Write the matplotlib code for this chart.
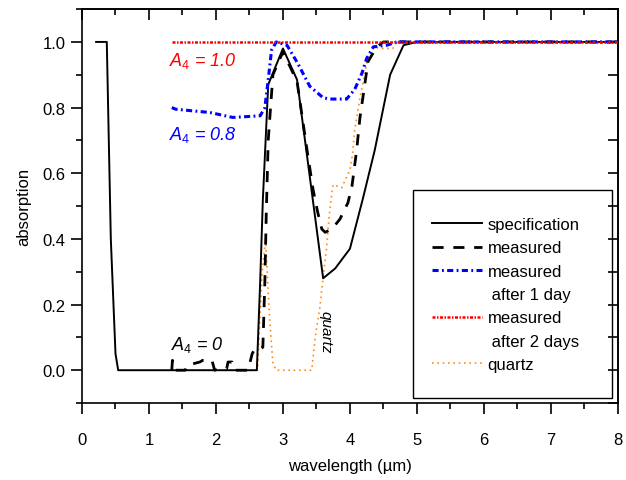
import numpy as np
import matplotlib
matplotlib.use('Agg')
import matplotlib.pyplot as plt
from matplotlib.patches import Rectangle
from matplotlib.lines import Line2D

plt.rcParams['font.family'] = ['Liberation Sans', 'DejaVu Sans']
plt.rcParams['mathtext.fontset'] = 'custom'
plt.rcParams['mathtext.it'] = 'Liberation Sans:italic'
plt.rcParams['mathtext.rm'] = 'Liberation Sans'

# specification
spec_x = [0.21, 0.37, 0.40, 0.43, 0.47, 0.50, 0.54, 2.61, 2.66, 2.70, 2.78, 3.00, 3.21,
          3.60, 3.78, 4.00, 4.19, 4.37, 4.60, 4.80, 5.00, 8.00]
spec_y = [1.00, 1.00, 0.70, 0.40, 0.20, 0.05, 0.00, 0.00, 0.27, 0.52, 0.87, 0.98, 0.885,
          0.28, 0.31, 0.37, 0.52, 0.67, 0.90, 0.99, 1.00, 1.00]

# measured
meas_x = [1.34, 1.35, 1.39, 1.54, 1.57, 1.76, 1.80, 1.94, 1.98, 2.06, 2.16, 2.18, 2.24,
          2.28, 2.40, 2.48, 2.54, 2.58, 2.66, 2.70, 2.73, 2.75, 2.78, 2.85, 3.00, 3.21,
          3.36, 3.45, 3.52, 3.58, 3.63, 3.73, 3.85, 3.97, 4.03, 4.10, 4.15, 4.20, 4.27,
          4.40, 4.50, 8.00]
meas_y = [0.00, 0.03, 0.00, 0.00, 0.015, 0.025, 0.03, 0.03, 0.00, 0.005, 0.005, 0.025, 0.025,
          0.00, 0.00, 0.00, 0.05, 0.065, 0.065, 0.07, 0.27, 0.47, 0.70, 0.90, 0.97, 0.88,
          0.67, 0.55, 0.48, 0.43, 0.42, 0.43, 0.46, 0.51, 0.56, 0.67, 0.77, 0.84, 0.94,
          0.985, 1.00, 1.00]

# measured after 1 day
day1_x = [1.34, 1.40, 1.91, 2.25, 2.66, 2.73, 2.78, 2.83, 2.90, 3.06, 3.22, 3.40, 3.60,
          3.70, 3.95, 4.07, 4.18, 4.25, 4.35, 4.55, 4.70, 8.00]
day1_y = [0.80, 0.795, 0.785, 0.77, 0.775, 0.80, 0.885, 0.975, 1.00, 0.99, 0.935, 0.865, 0.83,
          0.826, 0.826, 0.855, 0.905, 0.95, 0.985, 0.99, 1.00, 1.00]

# measured after 2 days
day2_x = [1.34, 8.00]
day2_y = [1.00, 1.00]

# quartz
quartz_x = [1.34, 1.38, 1.42, 2.62, 2.69, 2.74, 2.80, 2.85, 2.90, 3.43, 3.48, 3.55, 3.60,
            3.65, 3.69, 3.73, 3.75, 3.88, 3.92, 4.00, 4.04, 4.07, 4.15, 4.25, 4.35, 4.45,
            4.64, 4.70, 8.00]
quartz_y = [0.00, 0.005, 0.00, 0.00, 0.30, 0.40, 0.16, 0.02, 0.00, 0.00, 0.10, 0.19, 0.285,
            0.37, 0.47, 0.54, 0.565, 0.556, 0.575, 0.61, 0.66, 0.73, 0.83, 0.935, 0.985, 0.98,
            0.98, 1.00, 1.00]

xmaj = np.arange(0, 9, 1)
xmin = np.arange(0, 8.5, 0.5)
ymaj = np.arange(0, 1.01, 0.2)
ymin = np.arange(-0.1, 1.11, 0.1)

fig = plt.figure(figsize=(6.26, 4.81), dpi=100)
ax = fig.add_axes([0.131, 0.160, 0.856, 0.819])

l_q, = ax.plot(quartz_x, quartz_y, color='#ff8c1a', lw=1.2, dashes=(1, 2.2), zorder=2)
l_d2, = ax.plot(day2_x, day2_y, color='#ff0000', lw=1.8, dashes=(1.2, 0.6, 0.6, 0.6), zorder=5)
l_d1, = ax.plot(day1_x, day1_y, color='#0000ff', lw=2.2, dashes=(2, 1.1, 0.6, 1.1), zorder=4)
l_m, = ax.plot(meas_x, meas_y, color='black', lw=2.0, dashes=(4, 3.5), zorder=3)
l_s, = ax.plot(spec_x, spec_y, color='black', lw=1.4, zorder=3)

ax.set_xlim(0, 8)
ax.set_ylim(-0.1, 1.1)
ax.set_xticks(xmaj)
ax.set_xticks(xmin, minor=True)
ax.set_yticks(ymaj)
ax.set_yticks(ymin, minor=True)
ax.set_yticklabels(['0.0', '0.2', '0.4', '0.6', '0.8', '1.0'])
ax.tick_params(which='both', direction='out', labelsize=12, width=1.2, top=False, right=False)
ax.tick_params(which='major', length=8)
ax.tick_params(which='minor', length=4)
ax.tick_params(axis='x', pad=13)
ax.tick_params(axis='y', pad=4)

sec_t = ax.secondary_xaxis('top')
sec_t.set_xticks(xmaj)
sec_t.set_xticks(xmin, minor=True)
sec_t.tick_params(which='both', direction='in', labeltop=False, width=1.2)
sec_t.tick_params(which='major', length=8)
sec_t.tick_params(which='minor', length=4)
sec_r = ax.secondary_yaxis('right')
sec_r.set_yticks(ymaj)
sec_r.set_yticks(ymin, minor=True)
sec_r.tick_params(which='both', direction='in', labelright=False, width=1.2, length=7)
for a in (ax, sec_t, sec_r):
    for s in a.spines.values():
        s.set_linewidth(1.2)

ax.set_xlabel('wavelength (\u00b5m)', fontsize=12, labelpad=8)
ax.set_ylabel('absorption', fontsize=12, labelpad=8)

ax.text(1.3, 0.945, r'$A_{\mathit{4}}$ = 1.0', color='#ff0000', fontsize=13, style='italic', va='center')
ax.text(1.3, 0.72, r'$A_{\mathit{4}}$ = 0.8', color='#0000ff', fontsize=13, style='italic', va='center')
ax.text(1.33, 0.08, r'$A_{\mathit{4}}$ = 0', color='black', fontsize=13, style='italic', va='center')
ax.text(3.63, 0.12, 'quartz', fontsize=11, style='italic', rotation=-90,
        ha='center', va='center')

# legend frame drawn separately
ax.add_patch(Rectangle((0.617, 0.013), 0.372, 0.528, transform=ax.transAxes,
                       fill=False, edgecolor='black', lw=1.0, zorder=6))
blank = Line2D([], [], color='none')
handles = [l_s, l_m, l_d1, blank, l_d2, blank, l_q]
labels = ['specification', 'measured', 'measured', ' after 1 day',
          'measured', ' after 2 days', 'quartz']
leg = ax.legend(handles, labels, loc='upper left',
                bbox_to_anchor=(0.654, 0.472), frameon=False, fontsize=12,
                handlelength=3.0, handletextpad=0.3, labelspacing=0.5,
                borderpad=0, borderaxespad=0)

fig.savefig('out.png', dpi=100)
